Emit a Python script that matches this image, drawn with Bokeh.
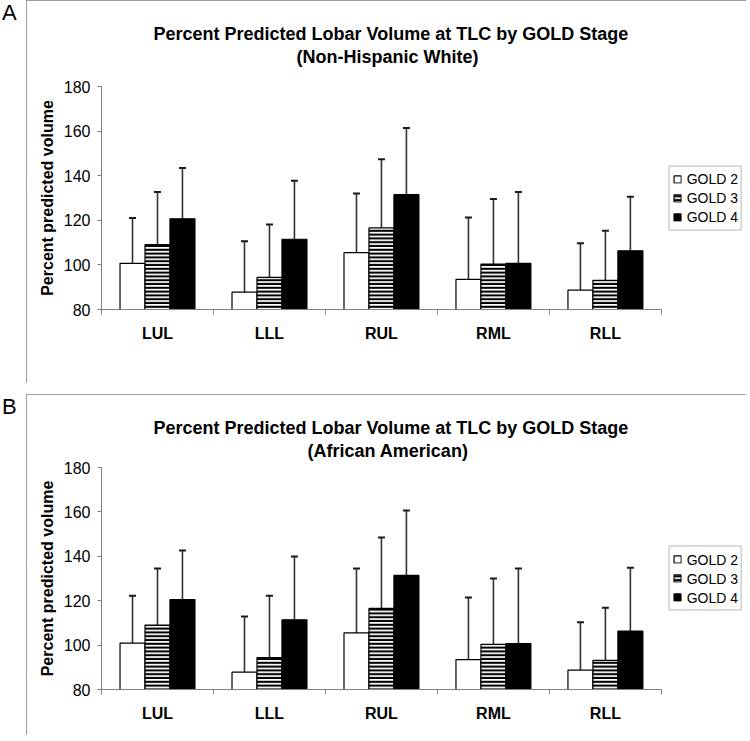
from bokeh.plotting import figure
from bokeh.models import (Range1d, FixedTicker, Whisker, TeeHead, ColumnDataSource,
                          Legend, LegendItem, Title, Div)
from bokeh.layouts import row, column
from bokeh.embed import file_html
from bokeh.resources import INLINE

categories = ["LUL", "LLL", "RUL", "RML", "RLL"]
series_names = ["GOLD 2", "GOLD 3", "GOLD 4"]
y_ticks = [80, 100, 120, 140, 160, 180]

# Panel A: Non-Hispanic White
nhw_gold2 = [100.7, 87.8, 105.5, 93.5, 88.7]
nhw_gold3 = [109.1, 94.4, 116.6, 100.4, 93.1]
nhw_gold4 = [120.7, 111.5, 131.5, 100.7, 106.3]
nhw_gold2_sd = [20.3, 22.8, 26.5, 27.8, 21.0]
nhw_gold3_sd = [23.6, 23.7, 30.8, 29.1, 22.2]
nhw_gold4_sd = [22.8, 26.2, 29.9, 32.0, 24.3]

# Panel B: African American
aa_gold2 = [100.9, 87.8, 105.5, 93.5, 88.7]
aa_gold3 = [109.0, 94.4, 116.5, 100.3, 93.1]
aa_gold4 = [120.5, 111.4, 131.4, 100.7, 106.3]
aa_gold2_sd = [21.3, 25.1, 29.0, 27.9, 21.6]
aa_gold3_sd = [25.5, 27.8, 32.0, 29.7, 23.7]
aa_gold4_sd = [22.1, 28.5, 29.2, 33.8, 28.5]

FONT = "Liberation Sans"
AXIS_GRAY = "#808080"
BAR_W = 0.223
LEGEND_ROOM = 0.76   # extra x-range to the right of the last category, holding the legend


def make_panel(line1, line2, off1, off2, means_list, sds_list, top_b, frame_h, bottom_b, gap):
    n = len(categories)
    p = figure(frame_width=645, frame_height=frame_h,
               x_range=Range1d(0, n + LEGEND_ROOM), y_range=Range1d(y_ticks[0], y_ticks[-1]),
               output_backend="svg", toolbar_location=None, title=None,
               min_border_left=75, min_border_right=0, min_border_top=top_b,
               min_border_bottom=bottom_b,
               styles={"outline": "1px solid #7f7f7f", "outline-offset": "-1px"})
    p.outline_line_color = None
    p.xgrid.visible = False
    p.ygrid.visible = False
    p.background_fill_color = "white"
    p.border_fill_color = "white"

    styles = [
        dict(fill_color="white"),
        dict(fill_color="white", hatch_pattern="horizontal_line", hatch_color="black",
             hatch_scale=3.8, hatch_weight=2.3),
        dict(fill_color="black"),
    ]
    offsets = [-BAR_W, 0.0, BAR_W]
    items = []
    for name, means, sds, st, off in zip(series_names, means_list, sds_list, styles, offsets):
        xs = [i + 0.5 + off for i in range(n)]
        src = ColumnDataSource(dict(x=xs, top=means, upper=[m + s for m, s in zip(means, sds)]))
        p.add_layout(Whisker(source=src, base="x", lower="top", upper="upper",
                             line_color="#333333", line_width=1.6,
                             upper_head=TeeHead(size=7, line_color="#1a1a1a", line_width=2),
                             lower_head=None))
        r = p.vbar(x="x", top="top", bottom=y_ticks[0], width=BAR_W, source=src,
                   line_color="black", line_width=1.2, **st)
        items.append(LegendItem(label=name, renderers=[r]))

    legend = Legend(items=items, location="center_right")
    legend.label_text_font = FONT
    legend.label_text_font_size = "14px"
    legend.label_text_color = "black"
    legend.label_height = 19
    legend.glyph_height = 9
    legend.glyph_width = 9
    legend.label_standoff = 5
    legend.spacing = 0
    legend.padding = 3
    legend.margin = 4
    legend.border_line_color = "#707070"
    legend.border_line_width = 1
    legend.background_fill_alpha = 1
    p.add_layout(legend)

    # y axis
    p.yaxis.ticker = FixedTicker(ticks=y_ticks)
    p.yaxis.axis_line_color = AXIS_GRAY
    p.yaxis.major_tick_line_color = AXIS_GRAY
    p.yaxis.major_tick_out = 4
    p.yaxis.major_tick_in = 0
    p.yaxis.minor_tick_line_color = None
    p.yaxis.major_label_text_font = FONT
    p.yaxis.major_label_text_font_size = "16px"
    p.yaxis.major_label_text_color = "black"
    p.yaxis.major_label_standoff = 7
    p.yaxis.axis_label = "Percent predicted volume"
    p.yaxis.axis_label_text_font = FONT
    p.yaxis.axis_label_text_font_size = "16px"
    p.yaxis.axis_label_text_font_style = "bold"
    p.yaxis.axis_label_text_color = "black"
    p.yaxis.axis_label_standoff = 5

    # x axis: labels at category centres, ticks at category boundaries
    p.xaxis.bounds = (0, n)
    p.xaxis.ticker = FixedTicker(ticks=[i + 0.5 for i in range(n)],
                                 minor_ticks=list(range(n + 1)))
    p.xaxis.major_label_overrides = {i + 0.5: c for i, c in enumerate(categories)}
    p.xaxis.axis_line_color = AXIS_GRAY
    p.xaxis.major_tick_line_color = None
    p.xaxis.major_tick_out = 0
    p.xaxis.major_tick_in = 0
    p.xaxis.minor_tick_line_color = AXIS_GRAY
    p.xaxis.minor_tick_out = 5
    p.xaxis.minor_tick_in = 0
    p.xaxis.major_label_text_font = FONT
    p.xaxis.major_label_text_font_size = "16px"
    p.xaxis.major_label_text_font_style = "bold"
    p.xaxis.major_label_text_color = "black"
    p.xaxis.major_label_standoff = 10

    # spacer between frame and the two title lines
    p.add_layout(Title(text=" ", text_font_size="1px", standoff=gap), "above")
    p.add_layout(Title(text=line2, align="left", offset=off2, text_font=FONT,
                       text_font_size="18px", text_font_style="bold", text_color="black",
                       standoff=0), "above")
    p.add_layout(Title(text=line1, align="left", offset=off1, text_font=FONT,
                       text_font_size="18px", text_font_style="bold", text_color="black",
                       standoff=1), "above")
    return p


def make_letter(letter, height):
    return Div(text=letter, width=26, height=height, margin=(0, 0, 0, 0),
               styles={"font-family": "Liberation Sans", "font-size": "22px",
                       "color": "black", "padding-left": "2px", "line-height": "26px"})


pA = make_panel("Percent Predicted Lobar Volume at TLC by GOLD Stage", "(Non-Hispanic White)",
                52, 195,
                [nhw_gold2, nhw_gold3, nhw_gold4], [nhw_gold2_sd, nhw_gold3_sd, nhw_gold4_sd],
                86, 223, 74, 17)
pB = make_panel("Percent Predicted Lobar Volume at TLC by GOLD Stage", "(African American)",
                52, 206,
                [aa_gold2, aa_gold3, aa_gold4], [aa_gold2_sd, aa_gold3_sd, aa_gold4_sd],
                73, 222, 46, 4)

rowA = row(make_letter("A", 383), pA)
rowB = row(make_letter("B", 341), pB)
rowB.margin = (11, 0, 0, 0)
layout = column(rowA, rowB)

open("out.html", "w").write(file_html(layout, INLINE))
